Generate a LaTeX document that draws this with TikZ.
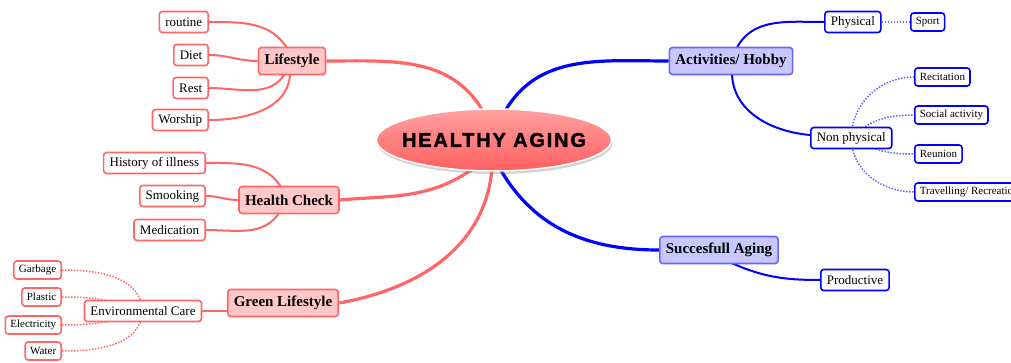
\documentclass[tikz,border=0pt]{standalone}
\usepackage{fontspec}
\setmainfont{Liberation Serif}
\newfontfamily\hubfont[LetterSpace=9,FakeBold=1.6]{Liberation Sans}
\usetikzlibrary{shapes.geometric,shadows,backgrounds}

\definecolor{redln}{HTML}{FF6666}
\definecolor{redfill}{HTML}{FFC8C8}
\definecolor{hubtop}{HTML}{FFA0A0}
\definecolor{hubbot}{HTML}{FF6060}
\definecolor{blueln}{HTML}{0000FF}
\definecolor{bluefill}{HTML}{C8C8FF}
\definecolor{bluebd}{HTML}{6666FF}

\tikzset{
  hub/.style={ellipse, draw=white, line width=1.5pt, top color=hubtop, bottom color=hubbot,
    minimum width=235pt, minimum height=62pt, inner sep=0pt,
    drop shadow={shadow xshift=1pt, shadow yshift=-3pt, opacity=0.35}},
  redmain/.style={rectangle, rounded corners=3pt, draw=redln, line width=1.6pt, fill=redfill,
    font=\fontsize{15}{17}\selectfont\bfseries, inner xsep=6pt, inner ysep=0pt, minimum height=27pt},
  redleaf/.style={rectangle, rounded corners=3pt, draw=redln, line width=1.6pt, fill=white,
    font=\fontsize{13}{15}\selectfont, inner xsep=6pt, inner ysep=0pt, minimum height=21pt},
  redsmall/.style={redleaf, font=\fontsize{11}{13}\selectfont, inner xsep=5pt, minimum height=18pt},
  bluemain/.style={redmain, draw=bluebd, fill=bluefill},
  blueleaf/.style={redleaf, draw=blueln},
  bluesmall/.style={redsmall, draw=blueln},
  redthick/.style={draw=redln, line width=3.2pt},
  redthin/.style={draw=redln, line width=2pt},
  reddot/.style={draw=redln, line width=1.5pt, dash pattern=on 1.5pt off 1.5pt},
  bluethick/.style={draw=blueln, line width=3.2pt},
  bluethin/.style={draw=blueln, line width=2pt},
  bluedot/.style={draw=bluebd, line width=1.5pt, dash pattern=on 1.5pt off 1.5pt}
}

\begin{document}
\begin{tikzpicture}[x=1pt,y=-1pt]
\useasboundingbox (0,0) rectangle (1011,363);

% centre
\node[hub] (hub) at (494,140) {};
\node (hubtxt) at (hub.center) {\hubfont\bfseries\fontsize{20}{22}\selectfont HEALTHY AGING};

% left side
\node[redmain] (life) at (292,61) {Lifestyle};
\node[redleaf, anchor=east] (routine) at (209,22) {routine};
\node[redleaf, anchor=east] (diet) at (209,55) {Diet};
\node[redleaf, anchor=east] (rest) at (209,88) {Rest};
\node[redleaf, anchor=east] (worship) at (209,120) {Worship};

\node[redmain] (check) at (289,200) {Health Check};
\node[redleaf, anchor=east] (hist) at (206,163) {History of illness};
\node[redleaf, anchor=east] (smook) at (206,196) {Smooking};
\node[redleaf, anchor=east] (medic) at (206,230) {Medication};

\node[redmain] (green) at (283,303) {Green Lifestyle};
\node[redleaf] (env) at (143,311) {Environmental Care};
\node[redsmall, anchor=east] (garb) at (62,270) {Garbage};
\node[redsmall, anchor=east] (plast) at (62,297) {Plastic};
\node[redsmall, anchor=east] (elec) at (62,325) {Electricity};
\node[redsmall, anchor=east] (water) at (62,351) {Water};

% right side
\node[bluemain] (hobby) at (731,61) {Activities/ Hobby};
\node[blueleaf, anchor=west] (phys) at (824,22) {Physical};
\node[bluesmall, anchor=west] (sport) at (910,22) {Sport};
\node[blueleaf, anchor=west] (nonphys) at (810,138) {Non physical};
\node[bluesmall, anchor=west] (recit) at (914,77) {Recitation};
\node[bluesmall, anchor=west] (social) at (914,115) {Social activity};
\node[bluesmall, anchor=west] (reunion) at (914,154) {Reunion};
\node[bluesmall, anchor=west] (travel) at (914,192) {Travelling/ Recreation};

\node[bluemain] (success) at (719,250) {Succesfull Aging};
\node[blueleaf, anchor=west] (prod) at (820,280) {Productive};

\begin{scope}[on background layer]
% main branches
\draw[redthick] (life.east) to[out=0,in=120] ([xshift=-11pt,yshift=-3pt]hub.north);
\draw[redthick] (check.east) to[out=5,in=215] ([xshift=-21pt,yshift=3pt]hub.south);
\draw[redthick] (green.east) to[out=10,in=265] ([xshift=-2pt,yshift=3pt]hub.south);
\draw[bluethick] ([xshift=11pt,yshift=-3pt]hub.north) to[out=60,in=180] (hobby.west);
\draw[bluethick] ([xshift=6pt,yshift=3pt]hub.south) to[out=-60,in=180] (success.west);
% lifestyle
\draw[redthin] (routine.east) to[out=0,in=120] ([xshift=-4pt,yshift=-3pt]life.north);
\draw[redthin] (diet.east) to[out=0,in=180] (life.west);
\draw[redthin] (rest.east) to[out=0,in=240] ([xshift=-6pt,yshift=3pt]life.south);
\draw[redthin] (worship.east) to[out=0,in=270] ([xshift=-2pt,yshift=3pt]life.south);
% health check
\draw[redthin] (hist.east) to[out=0,in=120] ([xshift=-7pt,yshift=-3pt]check.north);
\draw[redthin] (smook.east) to[out=0,in=180] (check.west);
\draw[redthin] (medic.east) to[out=0,in=240] ([xshift=-9pt,yshift=3pt]check.south);
% green lifestyle
\draw[redthin] (env.east) -- (green.west |- env.east);
\draw[reddot] (garb.east) to[out=0,in=95] (env.center);
\draw[reddot] (plast.east) to[out=0,in=160] (env.center);
\draw[reddot] (elec.east) to[out=0,in=200] (env.center);
\draw[reddot] (water.east) to[out=0,in=265] (env.center);
% activities
\draw[bluethin] ([xshift=5pt,yshift=-3pt]hobby.north) to[out=65,in=180] (phys.west);
\draw[bluethin] ([xshift=1pt,yshift=3pt]hobby.south) to[out=-90,in=175] ([yshift=3pt]nonphys.west);
\draw[bluedot] (phys.east) -- (sport.west);
\draw[bluedot] (nonphys.center) to[out=90,in=180] (recit.west);
\draw[bluedot] (nonphys.center) to[out=45,in=180] (social.west);
\draw[bluedot] (nonphys.center) to[out=-30,in=180] (reunion.west);
\draw[bluedot] (nonphys.center) to[out=-90,in=180] (travel.west);
% successful aging
\draw[bluethin] ([xshift=9pt,yshift=3pt]success.south) to[out=-25,in=180] (prod.west);
\end{scope}
\end{tikzpicture}
\end{document}
